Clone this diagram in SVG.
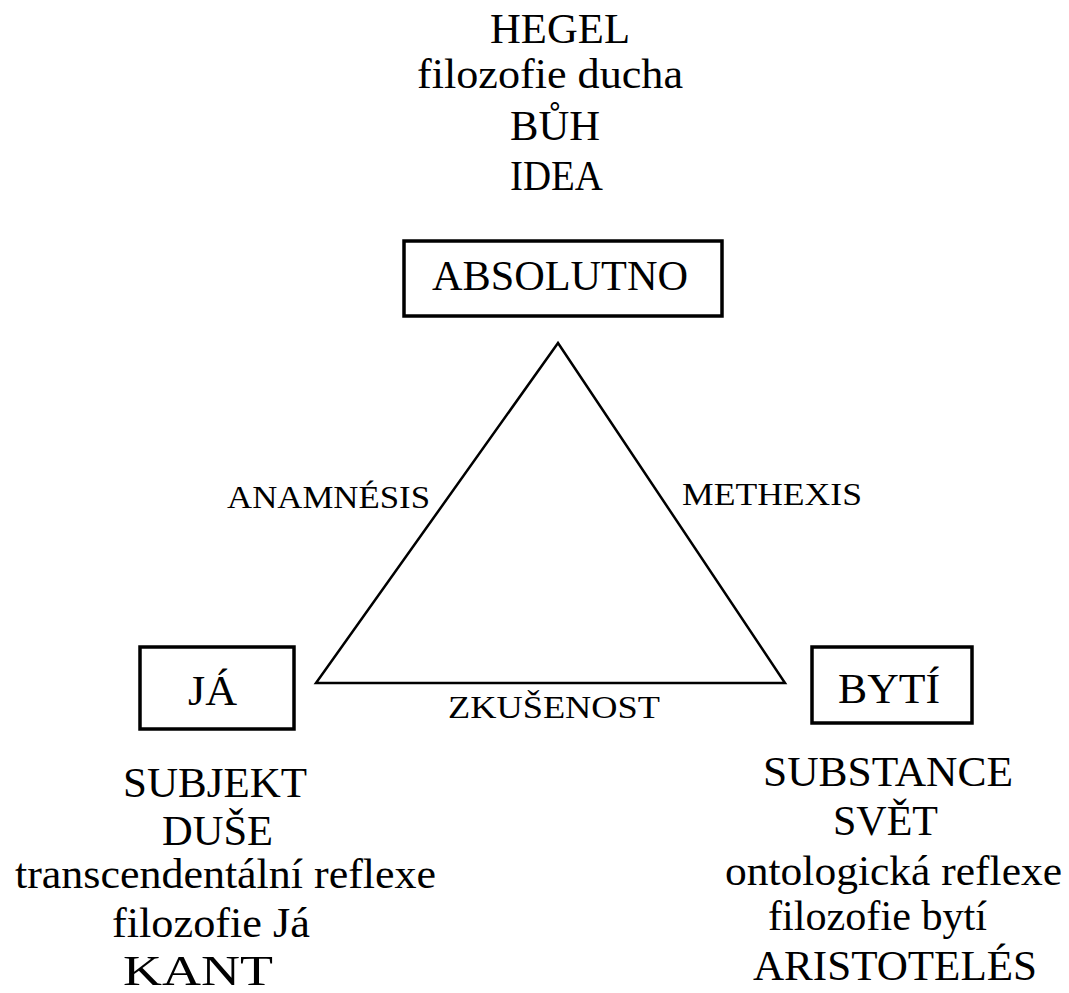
<svg xmlns="http://www.w3.org/2000/svg" width="1069" height="993" viewBox="0 0 1069 993">
  <style>
    text { font-family: "Liberation Serif", "Times New Roman", serif; fill: #000; }
    .big { font-size: 43px; }
    .small { font-size: 31px; }
    .box { fill: #fff; stroke: #000; stroke-width: 3.5; }
    .edge { fill: none; stroke: #000; stroke-width: 2.5; stroke-linejoin: miter; }
  </style>
  <rect width="1069" height="993" fill="#fff"/>
  <g id="hegel-text">
    <text class="big" x="490" y="43" textLength="140" lengthAdjust="spacingAndGlyphs">HEGEL</text>
    <text class="big" x="417" y="88" textLength="266" lengthAdjust="spacingAndGlyphs">filozofie ducha</text>
    <text class="big" x="510" y="140" textLength="90" lengthAdjust="spacingAndGlyphs">BŮH</text>
    <text class="big" x="510" y="190" textLength="93" lengthAdjust="spacingAndGlyphs">IDEA</text>
  </g>
  <g id="connectors">
    <polygon class="edge" points="558,343 316,683 785,683"/>
    <text class="small" x="227" y="508" textLength="203" lengthAdjust="spacingAndGlyphs">ANAMNÉSIS</text>
    <text class="small" x="682" y="505" textLength="180" lengthAdjust="spacingAndGlyphs">METHEXIS</text>
    <text class="small" x="448" y="718" textLength="212" lengthAdjust="spacingAndGlyphs">ZKUŠENOST</text>
  </g>
  <g id="absolutno">
    <rect class="box" x="404" y="241" width="318" height="75"/>
    <text class="big" x="432" y="290" textLength="256" lengthAdjust="spacingAndGlyphs">ABSOLUTNO</text>
  </g>
  <g id="ja">
    <rect class="box" x="140" y="647" width="154" height="82"/>
    <text class="big" x="188" y="705" textLength="49" lengthAdjust="spacingAndGlyphs">JÁ</text>
  </g>
  <g id="byti">
    <rect class="box" x="812" y="647" width="160" height="76"/>
    <text class="big" x="838" y="703" textLength="102" lengthAdjust="spacingAndGlyphs">BYTÍ</text>
  </g>
  <g id="ja-text">
    <text class="big" x="123" y="797" textLength="184" lengthAdjust="spacingAndGlyphs">SUBJEKT</text>
    <text class="big" x="162" y="845" textLength="111" lengthAdjust="spacingAndGlyphs">DUŠE</text>
    <text class="big" x="15" y="888" textLength="421" lengthAdjust="spacingAndGlyphs">transcendentální reflexe</text>
    <text class="big" x="112" y="937" textLength="198" lengthAdjust="spacingAndGlyphs">filozofie Já</text>
    <text class="big" x="123" y="985" textLength="150" lengthAdjust="spacingAndGlyphs">KANT</text>
  </g>
  <g id="byti-text">
    <text class="big" x="763" y="786" textLength="250" lengthAdjust="spacingAndGlyphs">SUBSTANCE</text>
    <text class="big" x="833" y="835" textLength="105" lengthAdjust="spacingAndGlyphs">SVĚT</text>
    <text class="big" x="725" y="885" textLength="337" lengthAdjust="spacingAndGlyphs">ontologická reflexe</text>
    <text class="big" x="768" y="930" textLength="219" lengthAdjust="spacingAndGlyphs">filozofie bytí</text>
    <text class="big" x="753" y="980" textLength="284" lengthAdjust="spacingAndGlyphs">ARISTOTELÉS</text>
  </g>
</svg>
